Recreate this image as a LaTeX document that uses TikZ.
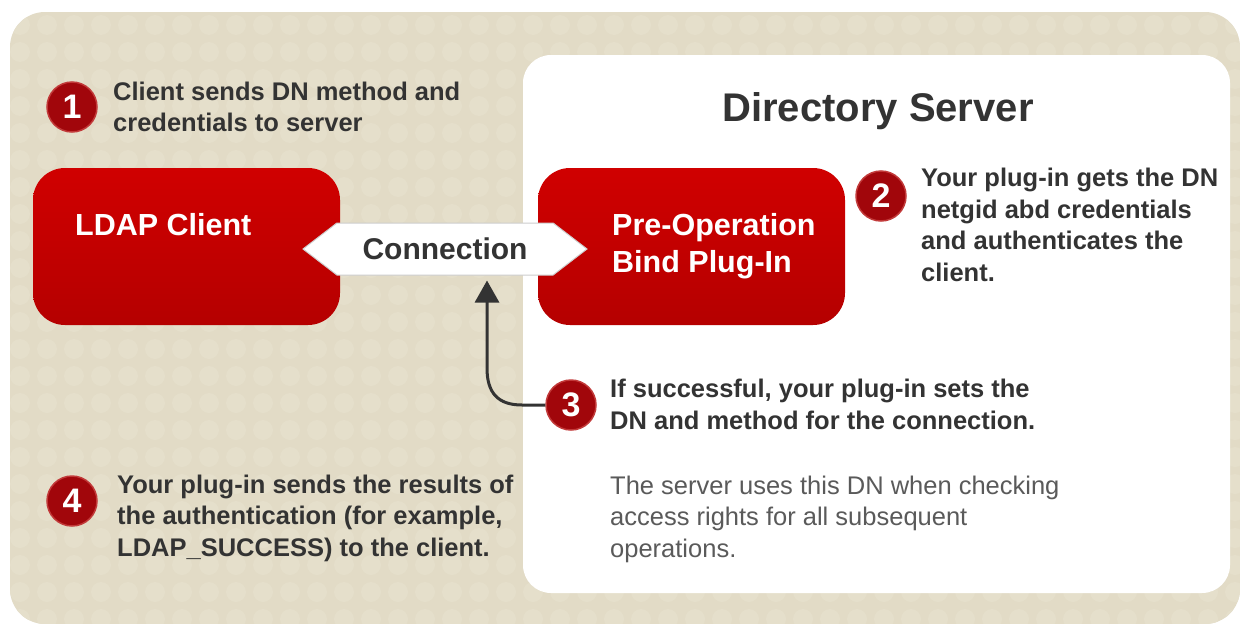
\documentclass[tikz,border=0pt]{standalone}
\usepackage{fontspec}
\setmainfont{Liberation Sans}
\usetikzlibrary{shapes.arrows,arrows.meta}
\definecolor{beige}{HTML}{E2DBC6}
\definecolor{dotc}{HTML}{E5DFCB}
\definecolor{redtop}{HTML}{D00000}
\definecolor{redbot}{HTML}{B50000}
\definecolor{badgered}{HTML}{A1060B}
\definecolor{badgeedge}{HTML}{C23A3A}
\definecolor{txtdark}{HTML}{333333}
\definecolor{txtgray}{HTML}{5A5A5A}
\definecolor{connedge}{HTML}{CDCDCD}
\begin{document}
\begin{tikzpicture}[x=1pt,y=-1pt,
  redbox/.style={rounded corners=32pt, top color=redtop, bottom color=redbot, draw=none, minimum width=307pt, minimum height=157pt, inner sep=0pt},
  boxtext/.style={text=white, font=\bfseries\fontsize{30.5}{37}\selectfont, align=left, inner sep=0pt},
  badge/.style={circle, fill=badgered, draw=badgeedge, line width=1.5pt, minimum size=50pt, inner sep=0pt, text=white, font=\bfseries\fontsize{34}{34}\selectfont},
  steptext/.style={text=txtdark, font=\bfseries\fontsize{25.5}{31.5}\selectfont, align=left, inner sep=0pt, anchor=base west},
  notetext/.style={text=txtgray, font=\fontsize{25.5}{31.5}\selectfont, align=left, inner sep=0pt, anchor=base west},
  panel/.style={fill=white, rounded corners=28pt, minimum width=707pt, minimum height=538pt, inner sep=0pt},
  connarrow/.style={double arrow, double arrow head extend=0pt, double arrow tip angle=75, minimum height=284pt, minimum width=52pt, inner sep=0pt, fill=white, draw=connedge, line width=1pt, text=txtdark, font=\bfseries\fontsize{30}{30}\selectfont},
  flow/.style={draw=txtdark, line width=3pt, -{Triangle[width=24pt,length=22pt]}},
]
\useasboundingbox (0,0) rectangle (1240,624);
\fill[white] (0,0) rectangle (1240,624);
\begin{scope}
  \clip[rounded corners=35pt] (10,12) rectangle (1240,624);
  \fill[beige] (10,12) rectangle (1240,624);
  \foreach \i in {0,...,45} \foreach \j in {0,...,22} \fill[dotc] (20+27*\i, 25+27*\j) circle (10pt);
\end{scope}
\node[panel] (server) at (876.5,324) {};
\node[font=\bfseries\fontsize{40}{40}\selectfont, text=txtdark, anchor=base, inner sep=0pt] (title) at (878,121) {Directory Server};
\node[redbox] (ldap) at (186.5,246.5) {};
\node[redbox] (preop) at (691.5,246.5) {};
\node[connarrow] (conn) at (445,249) {Connection};
\node[boxtext, anchor=base west] (ldaplbl) at (75,235) {LDAP Client};
\node[boxtext, anchor=base west] (preoplbl) at (612,272) {Pre-Operation\\Bind Plug-In};
\node[badge] (b1) at (72,107) {1};
\node[badge] (b2) at (881,196) {2};
\node[badge] (b3) at (571,405) {3};
\node[badge] (b4) at (72,501) {4};
\node[steptext] (t1) at (113,131.5) {Client sends DN method and\\credentials to server};
\node[steptext] (t2) at (921,281) {Your plug-in gets the DN\\netgid abd credentials\\and authenticates the\\client.};
\node[steptext] (t3) at (610,429) {If successful, your plug-in sets the\\DN and method for the connection.};
\node[notetext] (t5) at (610,557) {The server uses this DN when checking\\access rights for all subsequent\\operations.};
\node[steptext] (t4) at (117,556) {Your plug-in sends the results of\\the authentication (for example,\\LDAP\_SUCCESS) to the client.};
\coordinate (bend) at (487,368);
\draw[flow, shorten >=5pt] (b3.west) -- (522,405) .. controls (498,405) and (487,393) .. (bend) -- (bend |- conn.south);
\end{tikzpicture}
\end{document}
